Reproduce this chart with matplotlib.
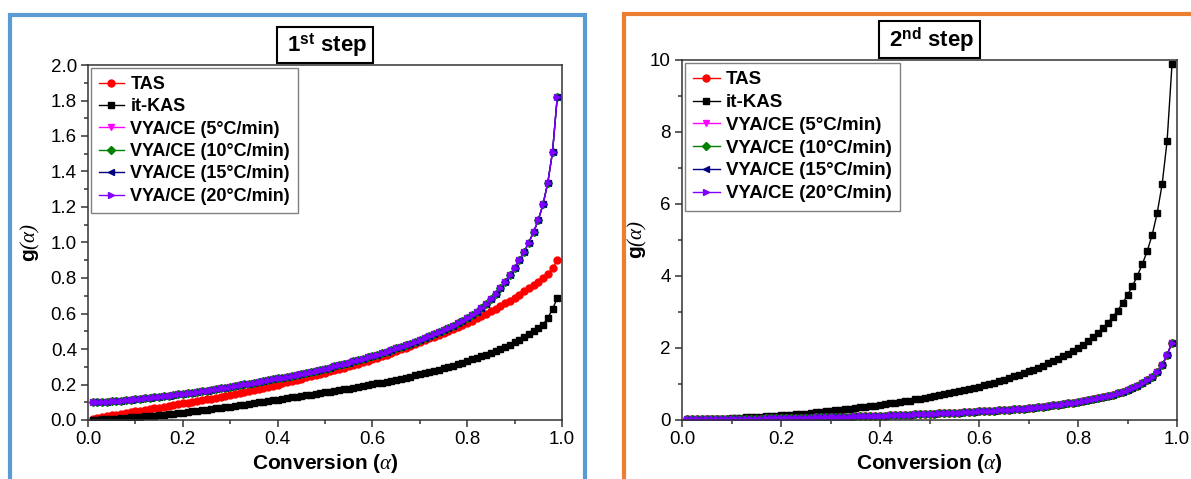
import matplotlib
matplotlib.use("Agg")
import matplotlib.pyplot as plt
from matplotlib.patches import Rectangle
from matplotlib.ticker import MultipleLocator, FuncFormatter

plt.rcParams["font.family"] = ["Liberation Sans", "DejaVu Sans"]
plt.rcParams["mathtext.fontset"] = "custom"
plt.rcParams["mathtext.rm"] = "Liberation Serif:italic"
plt.rcParams["mathtext.it"] = "Liberation Serif:italic"
plt.rcParams["mathtext.bf"] = "Liberation Sans:bold"

# conversion grid, 0.01 ... 0.99
alpha = [i / 100 for i in range(1, 100)]

# ---- 1st step: g(alpha) ----
tas_g1 = [
    0.008, 0.013, 0.017, 0.022, 0.026, 0.030, 0.035, 0.039, 0.044, 0.048,
    0.052, 0.057, 0.061, 0.066, 0.070, 0.075, 0.079, 0.084, 0.088, 0.093,
    0.097, 0.102, 0.107, 0.111, 0.116, 0.121, 0.126, 0.131, 0.136, 0.141,
    0.147, 0.152, 0.158, 0.164, 0.170, 0.176, 0.182, 0.188, 0.194, 0.200,
    0.207, 0.214, 0.220, 0.227, 0.233, 0.240, 0.246, 0.253, 0.260, 0.267,
    0.274, 0.281, 0.288, 0.295, 0.302, 0.310, 0.318, 0.326, 0.334, 0.342,
    0.351, 0.360, 0.369, 0.378, 0.388, 0.398, 0.408, 0.418, 0.429, 0.440,
    0.450, 0.460, 0.470, 0.480, 0.490, 0.500, 0.510, 0.522, 0.534, 0.546,
    0.559, 0.572, 0.586, 0.600, 0.614, 0.628, 0.643, 0.658, 0.673, 0.690,
    0.707, 0.724, 0.742, 0.760, 0.779, 0.799, 0.823, 0.855, 0.900,
]
kas_g1 = [
    0.001, 0.002, 0.004, 0.005, 0.007, 0.008, 0.010, 0.012, 0.015, 0.017,
    0.019, 0.021, 0.022, 0.024, 0.027, 0.030, 0.032, 0.035, 0.038, 0.041,
    0.044, 0.048, 0.051, 0.055, 0.058, 0.062, 0.065, 0.069, 0.072, 0.076,
    0.080, 0.084, 0.087, 0.091, 0.095, 0.099, 0.103, 0.107, 0.111, 0.115,
    0.119, 0.123, 0.127, 0.131, 0.135, 0.139, 0.143, 0.147, 0.151, 0.155,
    0.159, 0.163, 0.168, 0.172, 0.176, 0.181, 0.186, 0.191, 0.196, 0.201,
    0.206, 0.211, 0.216, 0.222, 0.227, 0.233, 0.239, 0.245, 0.251, 0.257,
    0.263, 0.270, 0.277, 0.284, 0.291, 0.299, 0.307, 0.315, 0.323, 0.332,
    0.341, 0.350, 0.359, 0.369, 0.379, 0.390, 0.401, 0.413, 0.425, 0.438,
    0.452, 0.467, 0.483, 0.500, 0.517, 0.537, 0.575, 0.625, 0.686,
]
vya_g1 = [
    0.099, 0.100, 0.102, 0.103, 0.105, 0.107, 0.109, 0.112, 0.114, 0.117,
    0.119, 0.122, 0.125, 0.128, 0.131, 0.134, 0.137, 0.140, 0.144, 0.147,
    0.150, 0.154, 0.158, 0.162, 0.166, 0.170, 0.174, 0.178, 0.183, 0.187,
    0.192, 0.196, 0.201, 0.205, 0.210, 0.215, 0.219, 0.224, 0.229, 0.234,
    0.239, 0.244, 0.249, 0.254, 0.260, 0.265, 0.271, 0.276, 0.282, 0.288,
    0.295, 0.302, 0.309, 0.316, 0.323, 0.330, 0.337, 0.345, 0.353, 0.361,
    0.369, 0.377, 0.385, 0.394, 0.403, 0.412, 0.421, 0.430, 0.440, 0.450,
    0.460, 0.471, 0.482, 0.493, 0.505, 0.517, 0.530, 0.544, 0.559, 0.575,
    0.592, 0.610, 0.630, 0.652, 0.680, 0.712, 0.745, 0.780, 0.817, 0.857,
    0.900, 0.947, 1.000, 1.058, 1.127, 1.215, 1.337, 1.510, 1.820,
]

# ---- 2nd step: g(alpha) ----
kas_g2 = [
    0.00, 0.00, 0.01, 0.01, 0.02, 0.02, 0.03, 0.03, 0.04, 0.05,
    0.05, 0.06, 0.07, 0.08, 0.08, 0.09, 0.10, 0.11, 0.12, 0.13,
    0.14, 0.15, 0.16, 0.17, 0.18, 0.20, 0.21, 0.22, 0.24, 0.25,
    0.27, 0.28, 0.30, 0.31, 0.33, 0.35, 0.36, 0.38, 0.40, 0.42,
    0.44, 0.46, 0.48, 0.50, 0.52, 0.54, 0.57, 0.59, 0.61, 0.64,
    0.66, 0.69, 0.72, 0.74, 0.77, 0.80, 0.83, 0.86, 0.89, 0.93,
    0.96, 1.00, 1.04, 1.08, 1.12, 1.16, 1.21, 1.25, 1.30, 1.35,
    1.40, 1.45, 1.51, 1.57, 1.63, 1.70, 1.77, 1.84, 1.92, 2.00,
    2.09, 2.19, 2.30, 2.42, 2.55, 2.70, 2.86, 3.04, 3.24, 3.47,
    3.72, 4.01, 4.33, 4.70, 5.15, 5.75, 6.55, 7.75, 9.90,
]
vya_g2 = [
    0.020, 0.021, 0.022, 0.023, 0.024, 0.025, 0.026, 0.027, 0.029, 0.030,
    0.032, 0.033, 0.035, 0.036, 0.038, 0.040, 0.042, 0.044, 0.047, 0.050,
    0.053, 0.055, 0.058, 0.061, 0.064, 0.067, 0.070, 0.073, 0.077, 0.080,
    0.084, 0.088, 0.091, 0.095, 0.099, 0.103, 0.107, 0.111, 0.116, 0.120,
    0.125, 0.129, 0.134, 0.139, 0.144, 0.149, 0.154, 0.159, 0.165, 0.170,
    0.176, 0.182, 0.188, 0.194, 0.201, 0.208, 0.215, 0.222, 0.230, 0.238,
    0.246, 0.254, 0.262, 0.271, 0.280, 0.289, 0.298, 0.308, 0.318, 0.330,
    0.345, 0.360, 0.375, 0.390, 0.405, 0.420, 0.440, 0.460, 0.480, 0.500,
    0.520, 0.550, 0.580, 0.610, 0.640, 0.670, 0.700, 0.740, 0.790, 0.840,
    0.890, 0.950, 1.020, 1.100, 1.200, 1.330, 1.520, 1.810, 2.150,
]
tas_g2 = [
    0.020, 0.021, 0.022, 0.023, 0.024, 0.025, 0.026, 0.027, 0.029, 0.030,
    0.032, 0.033, 0.035, 0.036, 0.038, 0.040, 0.042, 0.044, 0.047, 0.050,
    0.053, 0.055, 0.058, 0.061, 0.064, 0.067, 0.070, 0.073, 0.077, 0.080,
    0.084, 0.088, 0.091, 0.095, 0.099, 0.103, 0.107, 0.111, 0.116, 0.120,
    0.125, 0.129, 0.134, 0.139, 0.144, 0.149, 0.154, 0.159, 0.165, 0.170,
    0.176, 0.182, 0.188, 0.194, 0.201, 0.208, 0.215, 0.222, 0.230, 0.238,
    0.246, 0.254, 0.262, 0.271, 0.280, 0.289, 0.298, 0.308, 0.318, 0.330,
    0.345, 0.360, 0.375, 0.390, 0.405, 0.420, 0.440, 0.460, 0.480, 0.500,
    0.520, 0.550, 0.580, 0.610, 0.640, 0.670, 0.700, 0.740, 0.790, 0.840,
    0.890, 0.950, 1.020, 1.100, 1.200, 1.330, 1.520, 1.810, 2.150,
]

# the four heating rates of VYA/CE coincide on the master curve
heating_rates = ["5", "10", "15", "20"]
vya_colors = ["#ff00ff", "#008000", "#000080", "#8000ff"]
vya_markers = ["v", "D", "<", ">"]

panels = [
    dict(title=r" 1$^{\mathbf{st}}$ step ", tas=tas_g1, kas=kas_g1, vya=vya_g1,
         ylim=(0, 2.0), major=0.2, minor=0.1, yfmt="{:.1f}", ylpad=6,
         legsize=13, rect=[88 / 1191, 1 - 420 / 479, 474 / 1191, 355 / 479]),
    dict(title=r" 2$^{\mathbf{nd}}$ step ", tas=tas_g2, kas=kas_g2, vya=vya_g2,
         ylim=(0, 10), major=2, minor=1, yfmt="{:.0f}", ylpad=1,
         legsize=13.5, rect=[682 / 1191, 1 - 420 / 479, 495 / 1191, 360 / 479]),
]

fig = plt.figure(figsize=(11.91, 4.79), dpi=100)
fig.patch.set_facecolor("white")

# coloured panel frames
fig.patches.append(Rectangle((10 / 1191, -0.1), 575 / 1191, 1.1 - 15 / 479,
                             transform=fig.transFigure, fill=False,
                             ec="#5b9bd5", lw=3.0, clip_on=False))
fig.patches.append(Rectangle((624 / 1191, -0.1), 0.6, 1.1 - 14 / 479,
                             transform=fig.transFigure, fill=False,
                             ec="#ed7d31", lw=3.0, clip_on=False))

spine_c = "#333333"
for p in panels:
    ax = fig.add_axes(p["rect"])
    ms = 5.0
    ax.plot(alpha, p["tas"], "-o", color="#ff0000", lw=1, ms=ms, label="TAS")
    ax.plot(alpha, p["kas"], "-s", color="black", lw=1, ms=ms * 0.85, label="it-KAS")
    for rate, c, m in zip(heating_rates, vya_colors, vya_markers):
        ax.plot(alpha, p["vya"], "-", marker=m, color=c, lw=1,
                ms=ms * (0.8 if m == "D" else 1.0),
                label=f"VYA/CE ({rate}°C/min)")

    ax.set_xlim(0, 1.0)
    ax.set_ylim(*p["ylim"])
    ax.xaxis.set_major_locator(MultipleLocator(0.2))
    ax.xaxis.set_minor_locator(MultipleLocator(0.1))
    ax.yaxis.set_major_locator(MultipleLocator(p["major"]))
    ax.yaxis.set_minor_locator(MultipleLocator(p["minor"]))
    ax.xaxis.set_major_formatter(FuncFormatter(lambda v, _: f"{v:.1f}"))
    fmt = p["yfmt"]
    ax.yaxis.set_major_formatter(FuncFormatter(lambda v, _, f=fmt: f.format(v)))
    ax.tick_params(which="both", direction="out", top=False, right=False,
                   color=spine_c, width=1.1, labelsize=13.5, pad=3)
    ax.tick_params(which="major", length=5)
    ax.tick_params(which="minor", length=3)
    for s in ax.spines.values():
        s.set_color(spine_c)
        s.set_linewidth(1.1)

    ax.set_xlabel(r"Conversion ($\alpha$)", fontsize=15, fontweight="bold", labelpad=3)
    ax.set_ylabel(r"g$(\alpha)$", fontsize=15, fontweight="bold", labelpad=p["ylpad"])

    leg = ax.legend(loc="upper left", bbox_to_anchor=(0.0, 1.0), borderaxespad=0.15,
                    fancybox=False, framealpha=1, edgecolor="#808080",
                    prop=dict(weight="bold", size=p["legsize"]), handlelength=1.4,
                    handletextpad=0.35, labelspacing=0.3, borderpad=0.45,
                    numpoints=1)
    leg.get_frame().set_linewidth(1.0)

    ax.annotate(p["title"], xy=(0.5, 1.0), xycoords="axes fraction",
                xytext=(0, 4.5), textcoords="offset points",
                ha="center", va="bottom", fontsize=16, fontweight="bold",
                bbox=dict(boxstyle="square,pad=0.2", fc="white", ec="black", lw=1.5))

fig.savefig("out.png", dpi=100)
